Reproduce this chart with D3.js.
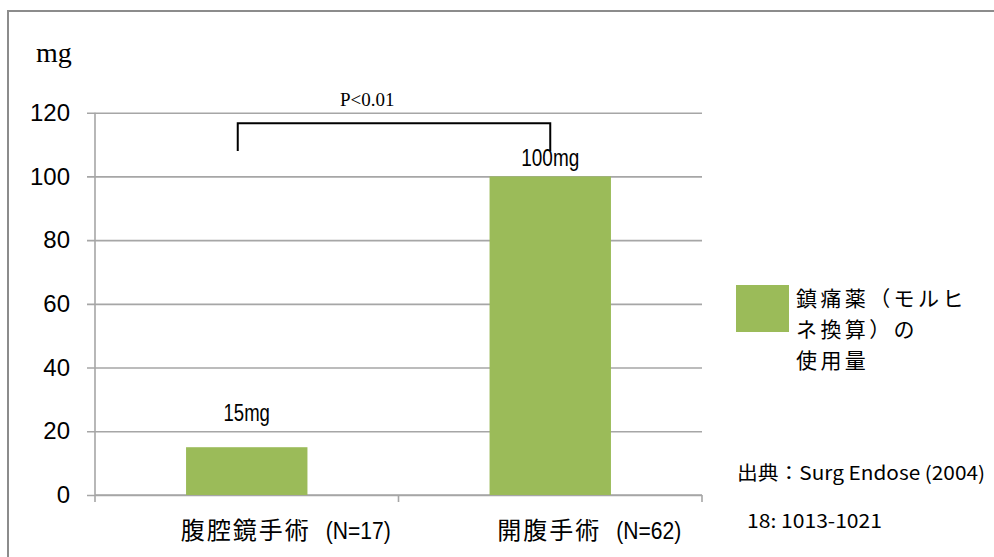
<!DOCTYPE html>
<html>
<head>
<meta charset="utf-8">
<script src="https://d3js.org/d3.v7.min.js"></script>
<style>
  body { margin: 0; background: #fff; }
  svg { display: block; }
  .tick text { font-family: "Liberation Sans", Arial, sans-serif; font-size: 24px; fill: #000; }
</style>
</head>
<body>
<svg width="994" height="557"></svg>
<script>
// chart values
var categories = ["腹腔鏡手術", "開腹手術"];
var nLabels = ["(N=17)", "(N=62)"];
var values = [15, 100];
var valueLabels = ["15mg", "100mg"];
var yTicks = [0, 20, 40, 60, 80, 100, 120];
var legendLines = ["鎮痛薬（モルヒ", "ネ換算）の", "使用量"];
var sourceLines = ["出典：Surg Endose (2004)", "18: 1013-1021"];

var green = "#9bbb59";
var gridColor = "#a6a6a6";
var jp = '"Noto Sans CJK JP", "Noto Sans", sans-serif';

var svg = d3.select("svg");

// outer frame (runs off the right and bottom edge)
svg.append("rect")
  .attr("x", 8).attr("y", 11)
  .attr("width", 1100).attr("height", 700)
  .attr("fill", "none")
  .attr("stroke", "#8c8c8c")
  .attr("stroke-width", 2);

var plotLeft = 95, plotRight = 702, plotTop = 112.7, plotBottom = 495;

var x = d3.scaleBand()
  .domain(categories)
  .range([plotLeft, plotRight])
  .paddingInner(0.6)
  .paddingOuter(0.3);

var y = d3.scaleLinear()
  .domain([0, 120])
  .range([plotBottom, plotTop]);

// y axis with gridlines
var yAxis = svg.append("g")
  .attr("transform", "translate(" + plotLeft + ",0)")
  .call(d3.axisLeft(y).tickValues(yTicks).tickSize(-(plotRight - plotLeft)).tickSizeOuter(0).tickPadding(25));
yAxis.select(".domain").remove();
yAxis.selectAll(".tick line")
  .attr("x1", -8)
  .attr("stroke", gridColor)
  .attr("stroke-width", 1.6);

// vertical axis line
svg.append("line")
  .attr("x1", plotLeft).attr("x2", plotLeft)
  .attr("y1", plotTop).attr("y2", plotBottom + 7)
  .attr("stroke", gridColor).attr("stroke-width", 1.6);

// x axis line and ticks at category edges
svg.append("line")
  .attr("x1", plotLeft).attr("x2", plotRight)
  .attr("y1", plotBottom).attr("y2", plotBottom)
  .attr("stroke", gridColor).attr("stroke-width", 1.6);
var edges = categories.map(function(d, i) { return plotLeft + x.step() * (i + 1); });
svg.selectAll(".xtick").data(edges).enter().append("line")
  .attr("class", "xtick")
  .attr("x1", function(d) { return d; }).attr("x2", function(d) { return d; })
  .attr("y1", plotBottom).attr("y2", plotBottom + 7)
  .attr("stroke", gridColor).attr("stroke-width", 1.6);

// bars
svg.selectAll(".bar").data(values).enter().append("rect")
  .attr("class", "bar")
  .attr("x", function(d, i) { return x(categories[i]); })
  .attr("y", function(d) { return y(d); })
  .attr("width", x.bandwidth())
  .attr("height", function(d) { return y(0) - y(d); })
  .attr("fill", green);

// value labels
svg.selectAll(".vlabel").data(values).enter().append("text")
  .attr("class", "vlabel")
  .attr("x", function(d, i) { return x(categories[i]) + x.bandwidth() / 2; })
  .attr("y", function(d) { return Math.min(y(d), y(20)) - 10; })
  .attr("text-anchor", "middle")
  .attr("font-family", '"Liberation Sans", Arial, sans-serif')
  .attr("font-size", 23)
  .attr("textLength", function(d, i) { return valueLabels[i].length * 11.6; })
  .attr("lengthAdjust", "spacingAndGlyphs")
  .text(function(d, i) { return valueLabels[i]; });

// category labels
categories.forEach(function(c, i) {
  var cjkW = c.length * 26, gap = 15, nW = 65;
  var total = cjkW + gap + nW;
  var x0 = x(c) + x.bandwidth() / 2 + 39 - total / 2;
  svg.append("text")
    .attr("x", x0).attr("y", 539)
    .attr("font-family", jp)
    .attr("font-size", 24)
    .attr("letter-spacing", 2)
    .text(c);
  svg.append("text")
    .attr("x", x0 + cjkW + gap).attr("y", 539)
    .attr("font-family", '"Liberation Sans", Arial, sans-serif')
    .attr("font-size", 23)
    .attr("textLength", nW)
    .attr("lengthAdjust", "spacingAndGlyphs")
    .text(nLabels[i]);
});

// y unit
svg.append("text")
  .attr("x", 36).attr("y", 62)
  .attr("font-family", '"Liberation Serif", "Times New Roman", serif')
  .attr("font-size", 28)
  .text("mg");

// significance bracket
var bx1 = x(categories[0]) + x.bandwidth() / 2 - 9;
var bx2 = x(categories[1]) + x.bandwidth() / 2;
svg.append("path")
  .attr("d", "M" + bx1 + "," + y(108) + "V" + y(116.7) + "H" + bx2 + "V" + y(108))
  .attr("fill", "none")
  .attr("stroke", "#000")
  .attr("stroke-width", 2);
svg.append("text")
  .attr("x", 340).attr("y", 106)
  .attr("font-family", '"Liberation Serif", "Times New Roman", serif')
  .attr("font-size", 19)
  .text("P<0.01");

// legend
svg.append("rect")
  .attr("x", 736).attr("y", 285)
  .attr("width", 53).attr("height", 47)
  .attr("fill", green);
svg.selectAll(".leg").data(legendLines).enter().append("text")
  .attr("class", "leg")
  .attr("x", 796)
  .attr("y", function(d, i) { return 306 + i * 31; })
  .attr("font-family", jp)
  .attr("font-size", 21)
  .attr("letter-spacing", 3.4)
  .text(function(d) { return d; });

// source
svg.selectAll(".src").data(sourceLines).enter().append("text")
  .attr("class", "src")
  .attr("x", function(d, i) { return i === 0 ? 737 : 747; })
  .attr("y", function(d, i) { return 480 + i * 48; })
  .attr("font-family", jp)
  .attr("font-size", 19)
  .attr("textLength", function(d, i) { return i === 0 ? 248 : 135; })
  .attr("lengthAdjust", "spacingAndGlyphs")
  .text(function(d) { return d; });
</script>
</body>
</html>
